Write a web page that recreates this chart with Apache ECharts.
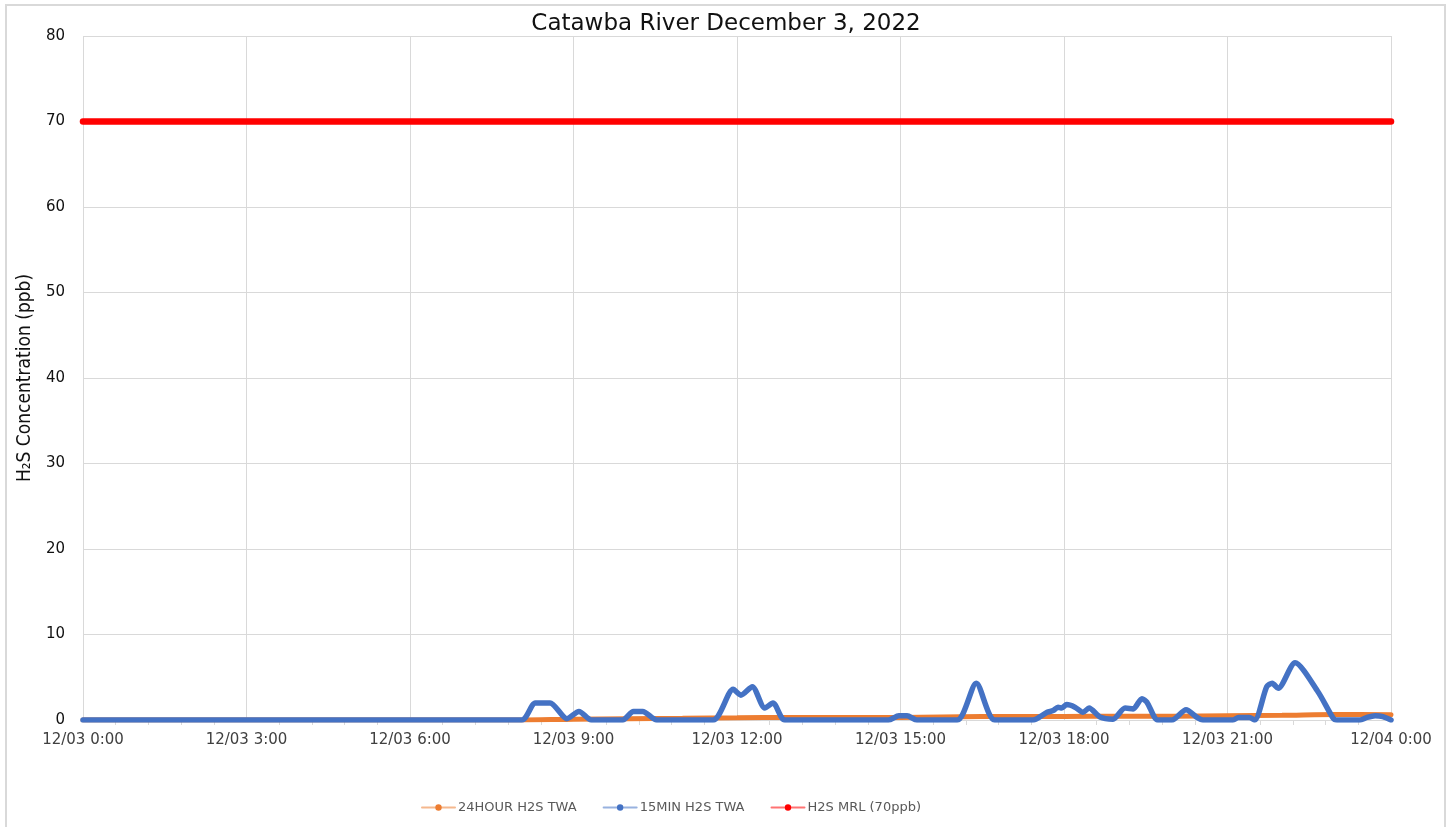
<!DOCTYPE html>
<html>
<head>
<meta charset="utf-8">
<script src="https://cdn.jsdelivr.net/npm/echarts@6/dist/echarts.min.js"></script>
<style>
  html, body { margin: 0; padding: 0; background: #fff; }
  #chart { width: 1452px; height: 827px; }
</style>
</head>
<body>
<div id="chart"></div>
<script>
// hours since 12/03 0:00
const xTickLabels = ['12/03 0:00', '12/03 3:00', '12/03 6:00', '12/03 9:00', '12/03 12:00',
  '12/03 15:00', '12/03 18:00', '12/03 21:00', '12/04 0:00']

const twa15Hours = [0, 8.05, 8.3, 8.57, 8.88, 9.1, 9.33, 9.9, 10.1, 10.27, 10.53, 11.56, 11.93, 12.07,
  12.28, 12.51, 12.66, 12.88, 14.78, 14.97, 15.12, 15.3, 16.04, 16.39, 16.73, 17.43, 17.69, 17.8,
  17.89, 17.96, 18.05, 18.2, 18.35, 18.46, 18.66, 18.9, 19.12, 19.27, 19.43, 19.52, 19.72, 19.98,
  20.24, 20.44, 20.55, 21.1, 21.2, 21.4, 21.5, 21.72, 21.82, 21.93, 22.24, 22.66, 22.94, 23.01,
  23.43, 23.56, 23.71, 23.85, 24]
const twa15Values = [0, 0, 2.0, 2.0, 0.15, 1.0, 0, 0, 1.0, 1.0, 0, 0, 3.6, 2.9,
  3.9, 1.4, 2.0, 0, 0, 0.5, 0.5, 0, 0, 4.3, 0, 0, 0.9, 1.1,
  1.5, 1.4, 1.8, 1.5, 0.9, 1.4, 0.35, 0.1, 1.4, 1.3, 2.5, 2.1, 0, 0,
  1.2, 0.3, 0, 0, 0.3, 0.3, 0, 3.9, 4.3, 3.7, 6.7, 3.3, 0.2, 0,
  0, 0.3, 0.5, 0.4, 0]

const twa24Hours = [0, 8, 9, 11, 12, 13, 15, 16.5, 18, 19, 20, 21, 22, 23, 24]
const twa24Values = [0, 0, 0.1, 0.2, 0.25, 0.3, 0.3, 0.4, 0.4, 0.45, 0.45, 0.5, 0.55, 0.65, 0.6]

const mrlHours = [0, 24]
const mrlValues = [70, 70]

const pairs = (xs, ys) => xs.map((x, i) => [x, ys[i]])

const myChart = echarts.init(document.getElementById('chart'))
const option = {
  backgroundColor: '#fff',
  animation: false,
  textStyle: { fontFamily: 'DejaVu Sans' },
  title: {
    text: 'Catawba River December 3, 2022',
    left: 'center',
    top: 8,
    textStyle: { fontSize: 23, fontWeight: 'normal', color: '#111' }
  },
  // outer chart border
  graphic: [{
    type: 'rect',
    shape: { x: 6, y: 5, width: 1439, height: 860 },
    style: { fill: 'none', stroke: '#d9d9d9', lineWidth: 2 },
    silent: true
  }],
  legend: {
    left: 416,
    top: 796,
    itemWidth: 33,
    itemHeight: 8,
    itemGap: 26,
    lineStyle: { opacity: 0.55 },
    textStyle: { fontSize: 13, color: '#595959', padding: [0, 0, 0, -2] },
    data: ['24HOUR H2S TWA', '15MIN H2S TWA', 'H2S MRL (70ppb)']
  },
  grid: { left: 83, right: 61, top: 36, bottom: 107 },
  xAxis: {
    type: 'value',
    min: 0,
    max: 24,
    interval: 3,
    axisLine: { lineStyle: { color: '#d9d9d9', width: 1 } },
    axisTick: { show: false },
    minorTick: { show: true, splitNumber: 5, length: 5, lineStyle: { color: '#d9d9d9' } },
    splitLine: { show: true, lineStyle: { color: '#d9d9d9', width: 1 } },
    axisLabel: {
      fontSize: 15,
      color: '#404040',
      margin: 13,
      formatter: (v) => xTickLabels[Math.round(v / 3)]
    }
  },
  yAxis: {
    type: 'value',
    min: 0,
    max: 80,
    interval: 10,
    name: 'H\u2082S Concentration (ppb)',
    nameLocation: 'middle',
    nameGap: 40,
    nameTextStyle: { fontSize: 19, color: '#111', fontFamily: 'DejaVu Sans Condensed' },
    axisLine: { show: false },
    axisTick: { show: false },
    splitLine: { lineStyle: { color: '#d9d9d9', width: 1 } },
    axisLabel: { fontSize: 15, color: '#111', margin: 18 }
  },
  series: [
    {
      name: '24HOUR H2S TWA',
      type: 'line',
      data: pairs(twa24Hours, twa24Values),
      showSymbol: false,
      symbol: 'circle',
      symbolSize: 7,
      smooth: 0.3,
      color: '#ED7D31',
      lineStyle: { width: 5, color: '#ED7D31', cap: 'round' },
      z: 2
    },
    {
      name: '15MIN H2S TWA',
      type: 'line',
      data: pairs(twa15Hours, twa15Values),
      showSymbol: false,
      symbol: 'circle',
      symbolSize: 7,
      smooth: 0.25,
      color: '#4472C4',
      lineStyle: { width: 5.5, color: '#4472C4', cap: 'round', join: 'round' },
      z: 3
    },
    {
      name: 'H2S MRL (70ppb)',
      type: 'line',
      data: pairs(mrlHours, mrlValues),
      showSymbol: false,
      symbol: 'circle',
      symbolSize: 7,
      color: '#FF0000',
      lineStyle: { width: 6.5, color: '#FF0000', cap: 'round' },
      z: 4
    }
  ]
}
myChart.setOption(option)
</script>
</body>
</html>
